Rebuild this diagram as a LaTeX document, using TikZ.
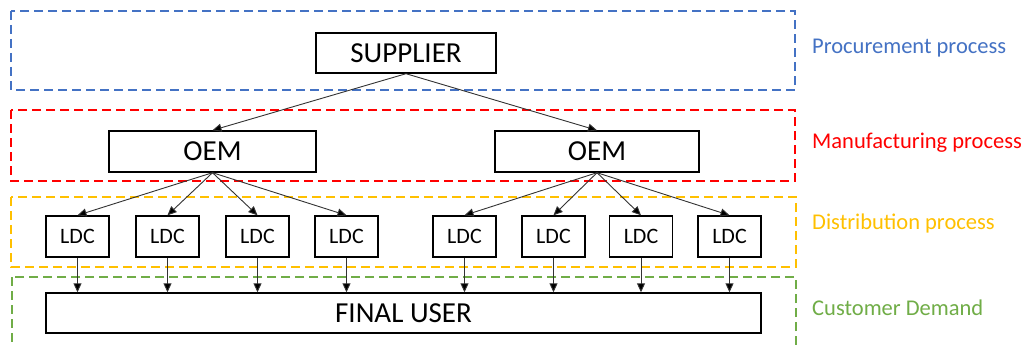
\documentclass[tikz,border=0pt]{standalone}
\usepackage{fontspec}
\setmainfont{Carlito}
\usetikzlibrary{arrows.meta}
\definecolor{cblue}{HTML}{4472C4}
\definecolor{cred}{HTML}{FF0000}
\definecolor{cyellow}{HTML}{FFC000}
\definecolor{cgreen}{HTML}{70AD47}
\tikzset{
  zone/.style={line width=2pt, dash pattern=on 9pt off 5pt},
  box/.style={draw=black, line width=1.4pt, fill=white, inner sep=0pt, font=\fontsize{29}{33}\selectfont},
  ldcbox/.style={box, minimum width=63pt, minimum height=41pt, font=\fontsize{22}{26}\selectfont},
  link/.style={draw=black!80, line width=0.9pt, -{Triangle[length=9pt,width=8pt,fill=black]}},
  lab/.style={anchor=west, inner sep=0pt, font=\fontsize{22.5}{26}\selectfont},
}
\begin{document}
\begin{tikzpicture}[x=1pt,y=-1pt]
\clip (0,0) rectangle (1033,345);
\fill[white] (0,0) rectangle (1033,345);
% zones
\draw[zone, cblue] (11,11) rectangle (795,90);
\draw[zone, cred] (11,110) rectangle (795,181);
\draw[zone, cyellow] (11,197) rectangle (796,267);
\draw[zone, cgreen] (12,277) rectangle (796,360);
% labels
\node[lab, text=cblue] (l1) at (812,48) {Procurement process};
\node[lab, text=cred] (l2) at (812,143) {Manufacturing process};
\node[lab, text=cyellow] (l3) at (812,223) {Distribution process};
\node[lab, text=cgreen] (l4) at (812,308) {Customer Demand};
% nodes
\node[box, minimum width=180pt, minimum height=40pt] (sup) at (406,53) {SUPPLIER};
\node[box, minimum width=207pt, minimum height=41pt] (oemL) at (212.5,151.5) {OEM};
\node[box, minimum width=204pt, minimum height=41pt] (oemR) at (597,151.5) {OEM};
\node[ldcbox] (d1) at (77.5,236.5) {LDC};
\node[ldcbox] (d2) at (167.5,236.5) {LDC};
\node[ldcbox] (d3) at (257.5,236.5) {LDC};
\node[ldcbox] (d4) at (346.5,236.5) {LDC};
\node[ldcbox] (d5) at (464.5,236.5) {LDC};
\node[ldcbox] (d6) at (553.5,236.5) {LDC};
\node[ldcbox] (d7) at (641,236.5) {LDC};
\node[ldcbox] (d8) at (729.5,236.5) {LDC};
\node[box, minimum width=715pt, minimum height=40pt] (fu) at (403.5,313) {FINAL USER};
% connectors
\draw[link] (sup.south) -- (oemL.north);
\draw[link] (sup.south) -- (oemR.north);
\foreach \d in {d1,d2,d3,d4} {\draw[link] (oemL.south) -- (\d.north);}
\foreach \d in {d5,d6,d7,d8} {\draw[link] (oemR.south) -- (\d.north);}
\foreach \d in {d1,d2,d3,d4,d5,d6,d7,d8} {\draw[link] (\d.south) -- (\d.south |- fu.north);}
\end{tikzpicture}
\end{document}
